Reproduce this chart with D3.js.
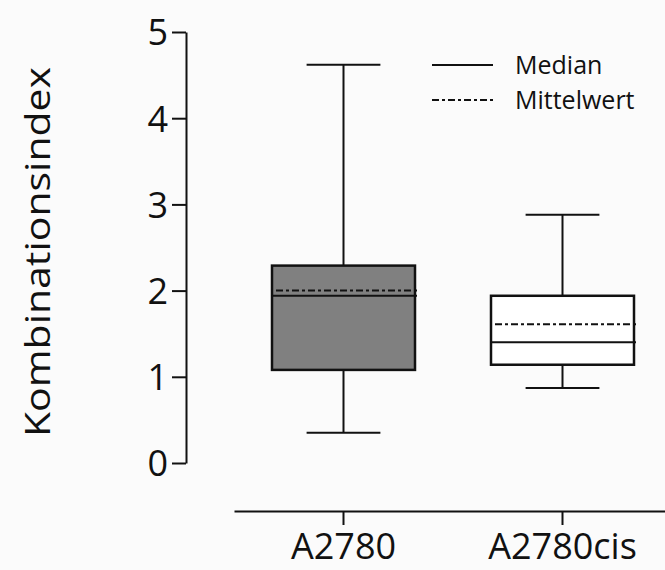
<!DOCTYPE html>
<html>
<head>
<meta charset="utf-8">
<script src="https://cdn.jsdelivr.net/npm/d3@7"></script>
<style>
  html, body { margin: 0; padding: 0; background: #fbfbfb; }
  svg { display: block; }
  text { font-family: "Open Sans", "Liberation Sans", sans-serif; fill: #111; }
</style>
</head>
<body>
<svg id="chart" width="665" height="570"></svg>
<script>
// ---- data ----
const categories = ["A2780", "A2780cis"];
const whiskerLow = [0.35, 0.87];
const q1 = [1.08, 1.14];
const median = [1.94, 1.40];
const mean = [2.00, 1.61];
const q3 = [2.29, 1.94];
const whiskerHigh = [4.62, 2.88];
const boxFills = ["#808080", "#ffffff"];
const yTicks = [0, 1, 2, 3, 4, 5];
const legendLabels = ["Median", "Mittelwert"];
const yTitle = "Kombinationsindex";

const svg = d3.select("#chart");
svg.append("rect").attr("width", 665).attr("height", 570).attr("fill", "#fbfbfb");

const y = d3.scaleLinear().domain([0, 5]).range([463, 32]);
const x = d3.scaleBand().domain(categories).range([234, 672]).paddingInner(0).paddingOuter(0);

const MEAN_DASH = "7,3,3,3";

// y axis
const yAxis = svg.append("g")
  .attr("transform", "translate(186,0)")
  .call(d3.axisLeft(y).tickValues(yTicks).tickFormat(d3.format("d")).tickSize(14).tickSizeOuter(0).tickPadding(4));
yAxis.select(".domain").attr("stroke", "#111").attr("stroke-width", 2);
yAxis.selectAll(".tick line").attr("stroke", "#111").attr("stroke-width", 2);
yAxis.selectAll(".tick text").attr("font-size", 36).attr("font-family", "'Open Sans', sans-serif").attr("fill", "#111").attr("dy", "0.36em");

// x axis
const xAxis = svg.append("g")
  .attr("transform", "translate(0,511)")
  .call(d3.axisBottom(x).tickSize(14).tickSizeOuter(0));
xAxis.select(".domain").attr("stroke", "#111").attr("stroke-width", 2);
xAxis.selectAll(".tick line").attr("stroke", "#111").attr("stroke-width", 2);
xAxis.selectAll(".tick text").attr("font-size", 36).attr("font-family", "'Open Sans', sans-serif")
  .attr("fill", "#111").attr("y", 48).attr("dy", 0);

// y title
svg.append("text")
  .attr("transform", "translate(50,252) rotate(-90)")
  .attr("text-anchor", "middle")
  .attr("font-size", 34)
  .attr("textLength", 370)
  .attr("lengthAdjust", "spacingAndGlyphs")
  .text(yTitle);

// boxes
const boxW = x.bandwidth() * 0.653;
const capW = x.bandwidth() * 0.337;
const idx = d3.range(categories.length);
const g = svg.append("g");

idx.forEach(i => {
  const cx = x(categories[i]) + x.bandwidth() / 2;
  const x0 = cx - boxW / 2, x1 = cx + boxW / 2;
  const gg = g.append("g");
  // whiskers
  gg.append("line").attr("x1", cx).attr("x2", cx).attr("y1", y(whiskerHigh[i])).attr("y2", y(q3[i]))
    .attr("stroke", "#111").attr("stroke-width", 2);
  gg.append("line").attr("x1", cx).attr("x2", cx).attr("y1", y(q1[i])).attr("y2", y(whiskerLow[i]))
    .attr("stroke", "#111").attr("stroke-width", 2);
  gg.append("line").attr("x1", cx - capW / 2).attr("x2", cx + capW / 2).attr("y1", y(whiskerHigh[i])).attr("y2", y(whiskerHigh[i]))
    .attr("stroke", "#111").attr("stroke-width", 2);
  gg.append("line").attr("x1", cx - capW / 2).attr("x2", cx + capW / 2).attr("y1", y(whiskerLow[i])).attr("y2", y(whiskerLow[i]))
    .attr("stroke", "#111").attr("stroke-width", 2);
  // box
  gg.append("rect").attr("x", x0).attr("width", boxW).attr("y", y(q3[i])).attr("height", y(q1[i]) - y(q3[i]))
    .attr("fill", boxFills[i]).attr("stroke", "#111").attr("stroke-width", 2.5);
  // median
  gg.append("line").attr("x1", x0).attr("x2", x1 + 2).attr("y1", y(median[i])).attr("y2", y(median[i]))
    .attr("stroke", "#111").attr("stroke-width", 2);
  // mean
  gg.append("line").attr("x1", x0 + 4).attr("x2", x1 + 2).attr("y1", y(mean[i])).attr("y2", y(mean[i]))
    .attr("stroke", "#111").attr("stroke-width", 2).attr("stroke-dasharray", MEAN_DASH);
});

// legend
const leg = svg.append("g");
const legY = [65, 100];
legendLabels.forEach((lab, i) => {
  leg.append("line").attr("x1", 432).attr("x2", 493).attr("y1", legY[i]).attr("y2", legY[i])
    .attr("stroke", "#111").attr("stroke-width", 2)
    .attr("stroke-dasharray", i === 1 ? MEAN_DASH : null);
  leg.append("text").attr("x", 515).attr("y", legY[i] + 9).attr("font-size", 25).text(lab);
});
</script>
</body>
</html>
